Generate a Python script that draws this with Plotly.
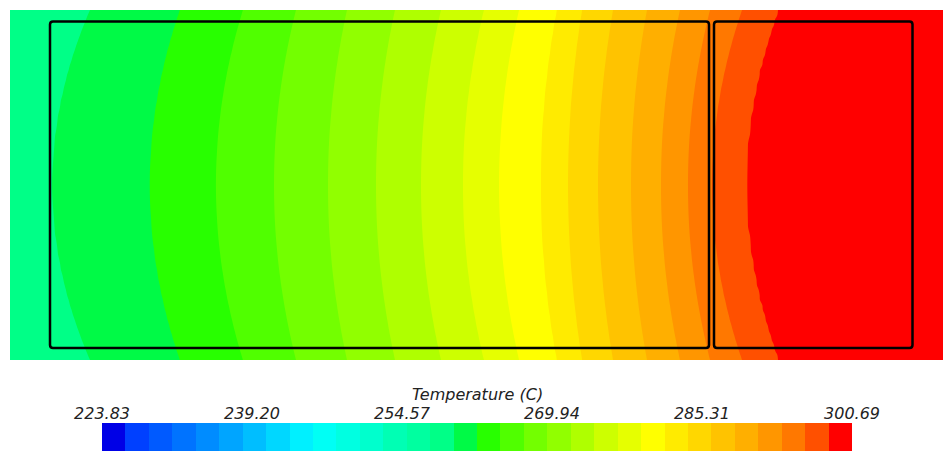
import numpy as np
import plotly.graph_objects as go

# ---------------- data ----------------
T_MIN = 223.83
T_MAX = 300.69
N_BANDS = 32
tick_labels = ["223.83", "239.20", "254.57", "269.94", "285.31", "300.69"]

# band colours of the legend bar (index 0 = coldest)
band_colors = [
    (0, 0, 230), (0, 64, 255), (0, 90, 255), (0, 115, 255), (0, 140, 255),
    (0, 165, 255), (0, 190, 255), (0, 215, 255), (0, 240, 255), (0, 255, 245),
    (0, 255, 225), (0, 255, 205), (0, 255, 180), (0, 255, 160), (0, 255, 135),
    (0, 250, 70), (40, 255, 0), (80, 255, 0), (115, 255, 0), (145, 255, 0),
    (175, 255, 0), (205, 255, 0), (230, 255, 0), (255, 255, 0), (255, 235, 0),
    (255, 215, 0), (255, 195, 0), (255, 175, 0), (255, 150, 0), (255, 120, 0),
    (255, 80, 0), (255, 0, 0),
]

# isotherms visible in the field: band index they open, x where they cross
# mid-height (px) and how much further right they sit at top/bottom edge (px)
iso_band = [15, 16, 17, 18, 19, 20, 21, 22, 23, 24, 25, 26, 27, 28, 29, 30, 31]
iso_mid_x = [52, 150, 216, 274, 328, 376, 421, 463, 499, 541, 568, 598, 631, 661, 688, 712, 746]
iso_bow = [38, 30, 27, 22, 19, 19, 20, 21, 20, 16, 14, 15, 16, 19, 22, 30, 32]
T_left_edge = 257.7
T_right_edge = 300.3

# field extent (px) and the two outlined bodies (x0, x1, y0, y1)
field_x = (10, 943)
field_y = (10, 360)
bodies = [(50, 709, 21.5, 348), (714, 912.5, 21.5, 348)]

# ---------------- build figure ----------------
delta = (T_MAX - T_MIN) / N_BANDS
iso_T = [T_MIN + b * delta for b in iso_band]

xs = np.arange(field_x[0], field_x[1] + 1, 3.0)
ys = np.arange(field_y[0], field_y[1] + 1, 5.0)
yc = (field_y[0] + field_y[1]) / 2
hh = (field_y[1] - field_y[0]) / 2
Z = []
for y in ys:
    w = ((y - yc) / hh) ** 2
    bx = [m + w * d for m, d in zip(iso_mid_x, iso_bow)]
    px = [field_x[0]] + bx + [field_x[1]]
    pt = [T_left_edge] + iso_T + [T_right_edge]
    Z.append(np.interp(xs, px, pt))
Z = np.array(Z)

def rgb(c):
    return "rgb(%d,%d,%d)" % c

cscale = []
for i, c in enumerate(band_colors):
    cscale.append([i / N_BANDS, rgb(c)])
    cscale.append([(i + 1) / N_BANDS, rgb(c)])

fig = go.Figure()
fig.add_trace(go.Contour(
    x=xs, y=ys, z=Z,
    zmin=T_MIN, zmax=T_MAX, zauto=False,
    colorscale=cscale,
    contours=dict(start=T_MIN + delta, end=T_MIN + (N_BANDS - 1) * delta,
                  size=delta, coloring="fill", showlines=False),
    line=dict(width=0),
    showscale=False, hoverinfo="skip",
    xaxis="x", yaxis="y",
))

# legend bar as a one-row heatmap on its own axis
edges = [T_MIN + i * delta for i in range(N_BANDS + 1)]
fig.add_trace(go.Heatmap(
    x=edges, y=[0, 1], z=[list(range(N_BANDS))],
    zmin=-0.5, zmax=N_BANDS - 0.5,
    colorscale=cscale, showscale=False, hoverinfo="skip",
    xaxis="x2", yaxis="y2",
))

def rounded_rect(x0, x1, y0, y1, r=3):
    return (f"M {x0+r},{y0} L {x1-r},{y0} Q {x1},{y0} {x1},{y0+r} "
            f"L {x1},{y1-r} Q {x1},{y1} {x1-r},{y1} L {x0+r},{y1} "
            f"Q {x0},{y1} {x0},{y1-r} L {x0},{y0+r} Q {x0},{y0} {x0+r},{y0} Z")

for (x0, x1, y0, y1) in bodies:
    fig.add_shape(type="path", path=rounded_rect(x0, x1, y0, y1),
                  xref="x", yref="y", line=dict(color="black", width=2.5))

W, H = 943, 451
tick_vals = [float(t) for t in tick_labels]
fnt = dict(family="DejaVu Sans", size=16, color="#222222", style="italic")

fig.update_layout(
    width=W, height=H, margin=dict(l=0, r=0, t=0, b=0, autoexpand=False),
    paper_bgcolor="white", plot_bgcolor="white", showlegend=False,
    xaxis=dict(domain=[field_x[0] / W, 1], range=list(field_x), visible=False,
               anchor="y", automargin=False),
    yaxis=dict(domain=[(H - field_y[1]) / H, (H - field_y[0]) / H],
               range=[field_y[1], field_y[0]], visible=False, anchor="x",
               automargin=False),
    xaxis2=dict(domain=[102 / W, 852 / W], range=[T_MIN, T_MAX], anchor="y2",
                side="top", tickvals=tick_vals, ticktext=tick_labels,
                tickfont=fnt, ticks="", showgrid=False, zeroline=False,
                showline=False, automargin=False),
    yaxis2=dict(domain=[0, 28 / H], range=[0, 1], visible=False, anchor="x2",
                automargin=False),
    annotations=[dict(text="Temperature (C)", x=477 / W, y=1 - 394 / H,
                      xref="paper", yref="paper", showarrow=False,
                      xanchor="center", yanchor="middle", font=fnt)],
)

fig.write_html("out.html", config={"displayModeBar": False},
               post_script="document.body.style.margin='0px';"
                           "document.body.style.overflow='hidden';")
